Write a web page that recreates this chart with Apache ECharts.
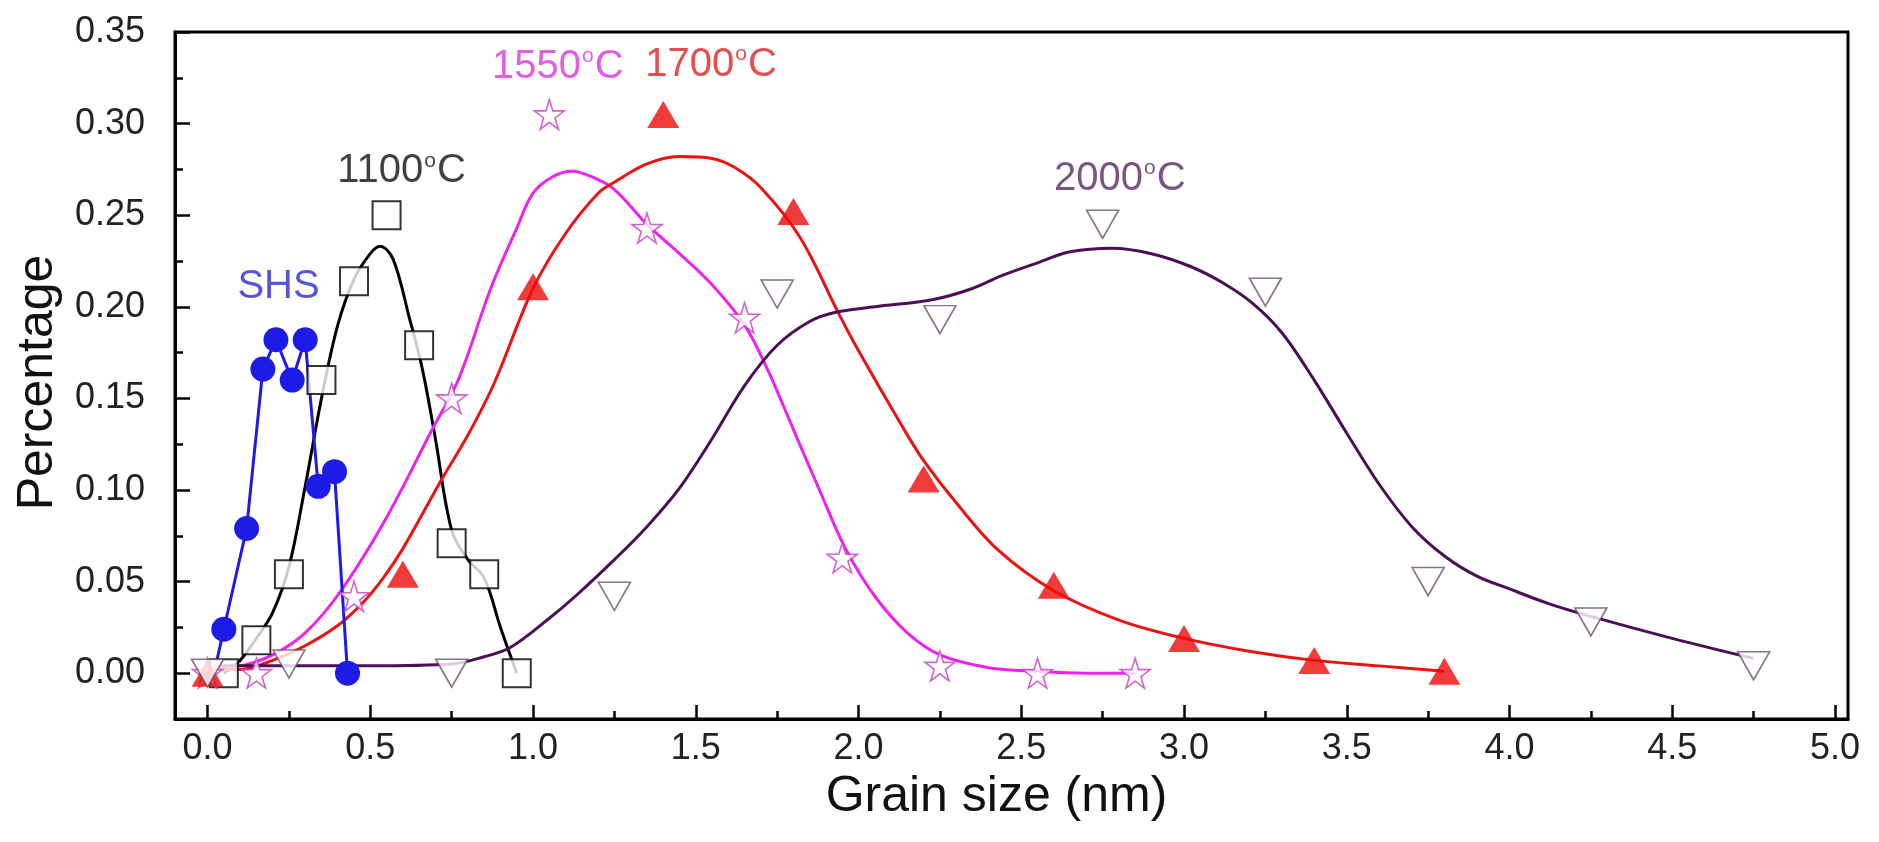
<!DOCTYPE html>
<html><head><meta charset="utf-8">
<script src="https://cdn.jsdelivr.net/npm/echarts@6.0.0/dist/echarts.min.js"></script>
<style>html,body{margin:0;padding:0;background:#fff}#c{width:1879px;height:842px}</style>
</head><body><div id="c"></div>
<script>
// ---- tick values ----
const X_TICKS = [0, 0.5, 1.0, 1.5, 2.0, 2.5, 3.0, 3.5, 4.0, 4.5, 5.0];
const X_MINOR = [0.25, 0.75, 1.25, 1.75, 2.25, 2.75, 3.25, 3.75, 4.25, 4.75];
const Y_TICKS = [0, 0.05, 0.10, 0.15, 0.20, 0.25, 0.30, 0.35];
const Y_MINOR = [0.025, 0.075, 0.125, 0.175, 0.225, 0.275, 0.325];

// ---- SHS (points joined) ----
const SHS_X = [0.02, 0.05, 0.12, 0.17, 0.21, 0.26, 0.30, 0.34, 0.39, 0.43];
const SHS_Y = [0.000, 0.024, 0.079, 0.166, 0.182, 0.160, 0.182, 0.102, 0.110, 0.000];

// ---- 1100 °C ----
const T1100_X = [0.05, 0.15, 0.25, 0.35, 0.45, 0.55, 0.65, 0.75, 0.85, 0.95];
const T1100_Y = [0.000, 0.018, 0.054, 0.160, 0.214, 0.250, 0.179, 0.071, 0.054, 0.000];
const C1100_X = [0.05, 0.10, 0.15, 0.20, 0.25, 0.30, 0.35, 0.40, 0.45, 0.50, 0.53, 0.57, 0.62, 0.66, 0.70, 0.75, 0.80, 0.85, 0.90, 0.95];
const C1100_Y = [0.000, 0.007, 0.019, 0.033, 0.058, 0.102, 0.150, 0.190, 0.215, 0.229, 0.233, 0.226, 0.194, 0.166, 0.128, 0.078, 0.062, 0.052, 0.025, 0.000];

// ---- 1550 °C ----
const T1550_X = [0.0, 0.15, 0.45, 0.75, 1.05, 1.35, 1.65, 1.95, 2.25, 2.55, 2.85];
const T1550_Y = [0.000, 0.000, 0.042, 0.150, 0.305, 0.243, 0.194, 0.063, 0.004, 0.000, 0.000];
const C1550_X = [0.00, 0.10, 0.20, 0.30, 0.41, 0.55, 0.69, 0.77, 0.87, 0.95, 1.00, 1.06, 1.12, 1.18, 1.25, 1.35, 1.45, 1.55, 1.65, 1.72, 1.80, 1.88, 1.96, 2.05, 2.15, 2.25, 2.40, 2.55, 2.70, 2.85];
const C1550_Y = [0.003, 0.004, 0.010, 0.022, 0.045, 0.085, 0.133, 0.160, 0.210, 0.243, 0.262, 0.271, 0.274, 0.271, 0.264, 0.245, 0.229, 0.212, 0.190, 0.166, 0.133, 0.100, 0.068, 0.042, 0.022, 0.010, 0.003, 0.001, 0.000, 0.000];

// ---- 1700 °C ----
const T1700_X = [0.0, 0.6, 1.0, 1.4, 1.8, 2.2, 2.6, 3.0, 3.4, 3.8];
const T1700_Y = [0.000, 0.054, 0.211, 0.305, 0.252, 0.106, 0.048, 0.019, 0.007, 0.001];
const C1700_X = [0.00, 0.10, 0.20, 0.30, 0.40, 0.48, 0.54, 0.60, 0.72, 0.80, 0.88, 1.00, 1.10, 1.20, 1.25, 1.35, 1.45, 1.55, 1.62, 1.70, 1.82, 1.94, 2.00, 2.14, 2.20, 2.30, 2.43, 2.60, 2.80, 3.00, 3.20, 3.40, 3.60, 3.80];
const C1700_Y = [0.002, 0.002, 0.007, 0.015, 0.026, 0.039, 0.052, 0.068, 0.106, 0.130, 0.158, 0.210, 0.240, 0.262, 0.268, 0.278, 0.282, 0.281, 0.276, 0.265, 0.238, 0.196, 0.176, 0.133, 0.116, 0.093, 0.067, 0.045, 0.029, 0.019, 0.012, 0.007, 0.004, 0.001];

// ---- 2000 °C ----
const T2000_X = [0.0, 0.25, 0.75, 1.25, 1.75, 2.25, 2.75, 3.25, 3.75, 4.25, 4.75];
const T2000_Y = [0.000, 0.005, 0.000, 0.042, 0.207, 0.193, 0.245, 0.208, 0.050, 0.028, 0.004];
const C2000_X = [0.00, 0.25, 0.50, 0.75, 0.85, 0.93, 1.05, 1.13, 1.25, 1.35, 1.45, 1.55, 1.65, 1.75, 1.85, 1.93, 2.05, 2.23, 2.35, 2.44, 2.55, 2.65, 2.78, 2.90, 3.02, 3.12, 3.21, 3.30, 3.40, 3.50, 3.60, 3.70, 3.80, 3.90, 4.00, 4.12, 4.25, 4.50, 4.75];
const C2000_Y = [0.004, 0.004, 0.004, 0.005, 0.009, 0.014, 0.030, 0.042, 0.062, 0.080, 0.101, 0.128, 0.157, 0.179, 0.192, 0.197, 0.200, 0.204, 0.210, 0.217, 0.224, 0.230, 0.232, 0.229, 0.222, 0.213, 0.202, 0.186, 0.160, 0.131, 0.103, 0.080, 0.064, 0.053, 0.046, 0.038, 0.031, 0.019, 0.008];

// ---- annotation labels (data coordinates of text centre) ----
const LABEL_TEXT = ['SHS', '1100', '1550', '1700', '2000'];
const LABEL_X = [0.218, 0.596, 1.076, 1.547, 2.803];
const LABEL_Y = [0.211, 0.274, 0.331, 0.332, 0.2697];

const FONT = "'Liberation Sans', Arial, sans-serif";
const zip = (xs, ys) => xs.map((x, i) => [x, ys[i]]);
const STAR = 'path://M50,0 L61.2,35.4 L98,35.4 L68.2,57.2 L79.4,92.6 L50,70.8 L20.6,92.6 L31.8,57.2 L2,35.4 L38.8,35.4 Z';

const COL = {shs: '#1c1ce6', t1100: '#000000', t1550: '#ee22ee', t1700: '#ee1111', t2000: '#4a0f55'};
const LABEL_COL = ['#2a2ad2', '#111111', '#dd33dd', '#dd2222', '#5a2a62'];

function curve(xs, ys, color) {
  return {type: 'line', data: zip(xs, ys), smooth: 0.35, showSymbol: false, symbol: 'none',
    lineStyle: {color: color, width: 3}, silent: true, z: 2};
}
function marks(xs, ys, opts) {
  return Object.assign({type: 'scatter', data: zip(xs, ys), silent: true, z: 4}, opts);
}

const shsData = zip(SHS_X, SHS_Y).map((p, i) => i === 0 ? {value: p, symbol: 'none'} : p);

const labelData = LABEL_TEXT.map((t, i) => {
  const c = LABEL_COL[i];
  const fmt = t === 'SHS' ? '{a|SHS}' : '{a|' + t + '}{s|o}{a|C}';
  return {
    value: [LABEL_X[i], LABEL_Y[i]],
    label: {
      show: true, position: 'inside', formatter: fmt,
      rich: {
        a: {fontSize: 40, fontFamily: FONT, color: c, lineHeight: 42},
        s: {fontSize: 21, fontFamily: FONT, color: c, verticalAlign: 'top', lineHeight: 42, padding: [0, 1, 0, 1]}
      }
    }
  };
});

const XMIN = -0.1, XMAX = 5.04, YMIN = -0.025, YMAX = 0.35;
const tickAxisX = (vals, len) => ({
  type: 'value', min: XMIN, max: XMAX, position: 'bottom', offset: 0,
  axisLine: {show: false, onZero: false},
  axisTick: {show: true, inside: true, length: len, customValues: vals, lineStyle: {color: '#000', width: 2.5}},
  axisLabel: {show: false}, splitLine: {show: false}
});
const tickAxisY = (vals, len) => ({
  type: 'value', min: YMIN, max: YMAX, position: 'left', offset: 0,
  axisLine: {show: false, onZero: false},
  axisTick: {show: true, inside: true, length: len, customValues: vals, lineStyle: {color: '#000', width: 2.5}},
  axisLabel: {show: false}, splitLine: {show: false}
});

const chart = echarts.init(document.getElementById('c'), null, {renderer: 'canvas'});
chart.setOption({
  animation: false,
  backgroundColor: '#ffffff',
  grid: {left: 175, right: 31, top: 32, bottom: 123, show: true, borderColor: '#000', borderWidth: 3, backgroundColor: 'transparent'},
  xAxis: [{
    type: 'value', min: XMIN, max: XMAX, position: 'bottom',
    name: 'Grain size (nm)', nameLocation: 'middle', nameGap: 46,
    nameTextStyle: {fontSize: 50, fontFamily: FONT, color: '#111', padding: [0, 30, 0, 0]},
    axisLine: {show: true, onZero: false, lineStyle: {color: '#000', width: 3}},
    axisTick: {show: false},
    axisLabel: {show: true, customValues: X_TICKS, margin: 12, fontSize: 36, fontFamily: FONT, color: '#222',
      formatter: v => v.toFixed(1), showMinLabel: true, showMaxLabel: true},
    splitLine: {show: false}
  }, tickAxisX(X_TICKS, 14), tickAxisX(X_MINOR, 8)],
  yAxis: [{
    type: 'value', min: YMIN, max: YMAX, position: 'left',
    name: 'Percentage', nameLocation: 'middle', nameGap: 112, nameRotate: 90,
    nameTextStyle: {fontSize: 50, fontFamily: FONT, color: '#111', padding: [0, 14, 0, 0]},
    axisLine: {show: true, onZero: false, lineStyle: {color: '#000', width: 3}},
    axisTick: {show: false},
    axisLabel: {show: true, customValues: Y_TICKS, margin: 30, fontSize: 36, fontFamily: FONT, color: '#222',
      formatter: v => v.toFixed(2), showMinLabel: true, showMaxLabel: true},
    splitLine: {show: false}
  }, tickAxisY(Y_TICKS, 15), tickAxisY(Y_MINOR, 8)],
  series: [
    curve(C1100_X, C1100_Y, COL.t1100),
    curve(C1550_X, C1550_Y, COL.t1550),
    curve(C1700_X, C1700_Y, COL.t1700),
    curve(C2000_X, C2000_Y, COL.t2000),
    {type: 'line', data: shsData, smooth: false, symbol: 'circle', symbolSize: 25, showSymbol: true,
      lineStyle: {color: COL.shs, width: 3}, itemStyle: {color: COL.shs}, silent: true, z: 3},
    marks(T1100_X, T1100_Y, {symbol: 'rect', symbolSize: 28, itemStyle: {color: '#fff', borderColor: '#000', borderWidth: 2}}),
    marks(T1550_X, T1550_Y, {symbol: STAR, symbolSize: 30, itemStyle: {color: '#fff', borderColor: '#c43cc4', borderWidth: 1.6}}),
    marks(T1700_X, T1700_Y, {symbol: 'triangle', symbolSize: [32, 27], itemStyle: {color: '#ee0a0a'}}),
    marks(T2000_X, T2000_Y, {symbol: 'triangle', symbolRotate: 180, symbolSize: [32, 28], itemStyle: {color: '#fff', borderColor: '#6e4c70', borderWidth: 1.6}}),
    {type: 'scatter', data: labelData, symbolSize: 1, itemStyle: {color: 'rgba(0,0,0,0)'}, silent: true, z: 6}
  ]
});
</script>
</body></html>
